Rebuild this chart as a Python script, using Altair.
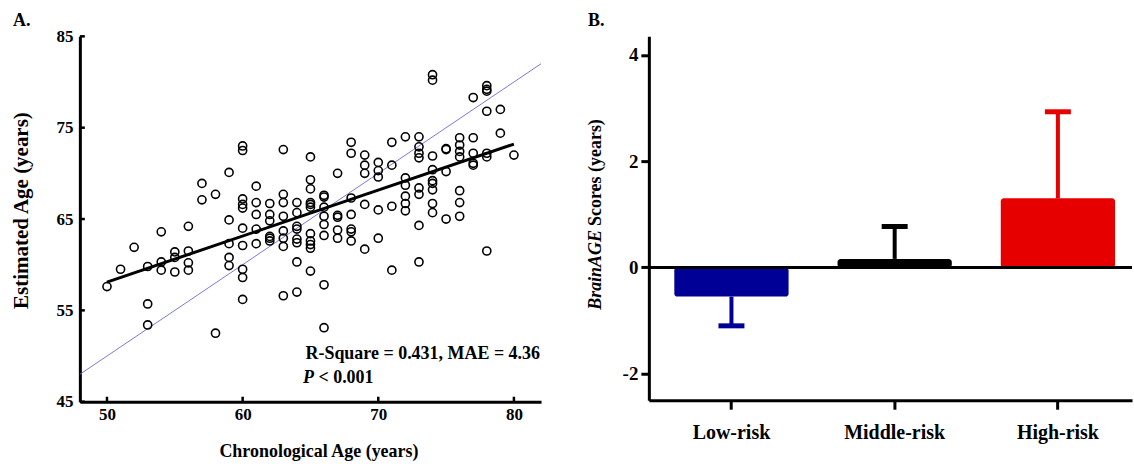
import altair as alt
import pandas as pd

# ---------------- Panel A data ----------------
chron_age = (
    [50] + [51] + [52] + [53]*3 + [54]*3 + [55]*3 + [56]*4 + [57]*2 + [58]*2 + [59]*5
    + [60]*10 + [61]*5 + [62]*6 + [63]*8 + [64]*8 + [65]*11 + [66]*8 + [67]*5 + [68]*7
    + [69]*5 + [70]*5 + [71]*4 + [72]*6 + [73]*8 + [74]*9 + [75]*4 + [76]*7 + [77]*5
    + [78]*7 + [79]*2 + [80]
)
est_age = [
    57.6,
    59.5,
    61.9,
    59.8, 55.7, 53.4,
    63.6, 60.3, 59.4,
    61.4, 60.8, 59.2,
    64.2, 61.5, 60.2, 59.4,
    68.9, 67.1,
    67.7, 52.5,
    70.1, 64.9, 62.3, 60.8, 59.9,
    73.0, 72.5, 67.2, 66.6, 66.2, 64.0, 62.1, 59.5, 58.6, 56.2,
    68.6, 66.8, 65.5, 63.9, 62.3,
    66.7, 65.5, 64.8, 63.1, 62.9, 62.6,
    72.6, 67.7, 66.8, 65.3, 63.7, 62.9, 62.0, 56.6,
    66.8, 65.7, 64.2, 63.9, 62.8, 62.4, 60.3, 57.0,
    71.8, 69.3, 68.3, 66.8, 66.6, 66.3, 63.4, 62.6, 62.2, 61.8, 59.3,
    67.6, 67.4, 66.3, 65.3, 64.4, 63.2, 57.8, 53.1,
    70.0, 65.4, 65.2, 63.8, 62.9,
    73.4, 72.2, 67.3, 65.5, 63.9, 63.6, 62.6,
    72.0, 70.9, 70.0, 66.6, 61.7,
    71.2, 70.3, 69.6, 66.0, 62.9,
    73.4, 70.9, 66.4, 59.4,
    74.0, 69.5, 68.7, 67.5, 66.7, 65.9,
    74.0, 72.9, 72.2, 71.7, 68.4, 67.7, 64.3, 60.3,
    80.8, 80.2, 71.9, 70.4, 69.2, 68.9, 68.2, 66.7, 65.7,
    72.7, 72.6, 70.2, 65.0,
    73.9, 73.1, 72.4, 71.8, 68.1, 66.8, 65.3,
    78.3, 73.9, 72.2, 71.1, 70.9,
    79.6, 79.2, 79.0, 76.8, 72.2, 71.8, 61.5,
    77.0, 74.4,
    72.0,
]
fit_x = [50, 80]
fit_y = [58.1, 73.2]
identity_xy = [48, 82]
x_ticks = [50, 60, 70, 80]
y_ticks = [45, 55, 65, 75, 85]

# ---------------- Panel B data ----------------
groups = ["Low-risk", "Middle-risk", "High-risk"]
means = [-0.55, 0.16, 1.30]
err_end = [-1.10, 0.77, 2.93]
bar_colors = ["#000096", "#000000", "#e60000"]
b_ticks = [-2, 0, 2, 4]

FONT = "Liberation Serif"

# ---------------- Panel A ----------------
pts = pd.DataFrame({"x": chron_age, "y": est_age})
xs = alt.Scale(domain=[48, 82], nice=False, zero=False)
ys = alt.Scale(domain=[45, 85], nice=False, zero=False)

points = alt.Chart(pts).mark_point(
    shape="circle", filled=False, color="black", strokeWidth=1.6, size=66, opacity=1
).encode(
    x=alt.X("x:Q", scale=xs, axis=alt.Axis(
        values=x_ticks, ticks=False, tickSize=0, grid=False,
        domainColor="black", domainWidth=3,
        labelFont=FONT, labelFontSize=17, labelFontWeight="bold", labelColor="black",
        labelBaseline="middle", labelPadding=13,
        title="Chronological Age (years)", titleFont=FONT, titleFontSize=18,
        titleFontWeight="bold", titleColor="black",
        titleX=239, titleY=50, titleBaseline="middle", titleAlign="center")),
    y=alt.Y("y:Q", scale=ys, axis=alt.Axis(
        values=y_ticks, ticks=False, tickSize=0, grid=False,
        domainColor="black", domainWidth=3,
        labelFont=FONT, labelFontSize=17, labelFontWeight="bold", labelColor="black",
        labelPadding=7,
        title="Estimated Age (years)", titleFont=FONT, titleFontSize=21,
        titleFontWeight="bold", titleColor="black",
        titleX=-58, titleY=174, titleBaseline="middle", titleAlign="center", titleAngle=270)),
)

ident = alt.Chart(pd.DataFrame({"x": identity_xy, "y": identity_xy})).mark_line(
    color="#6a6ad8", strokeWidth=0.9
).encode(x=alt.X("x:Q", scale=xs), y=alt.Y("y:Q", scale=ys))

fit = alt.Chart(pd.DataFrame({"x": fit_x, "y": fit_y})).mark_line(
    color="black", strokeWidth=3
).encode(x=alt.X("x:Q", scale=xs), y=alt.Y("y:Q", scale=ys))

xtick_marks = alt.Chart(pd.DataFrame({"x": x_ticks})).mark_rule(
    color="black", strokeWidth=2.5
).encode(x=alt.X("x:Q", scale=xs), y=alt.value(366), y2=alt.value(361))

ytick_marks = alt.Chart(pd.DataFrame({"y": y_ticks})).mark_rule(
    color="black", strokeWidth=2.5
).encode(y=alt.Y("y:Q", scale=ys), x=alt.value(0), x2=alt.value(5))

ann1 = alt.Chart(pd.DataFrame({"t": ["R-Square = 0.431, MAE = 4.36"]})).mark_text(
    font=FONT, fontSize=18, fontWeight="bold", align="left", baseline="middle", color="black"
).encode(text="t:N", x=alt.value(226), y=alt.value(318))

ann2a = alt.Chart(pd.DataFrame({"t": ["P"]})).mark_text(
    font=FONT, fontSize=18, fontWeight="bold", fontStyle="italic", align="left",
    baseline="middle", color="black"
).encode(text="t:N", x=alt.value(223.5), y=alt.value(342))

ann2b = alt.Chart(pd.DataFrame({"t": ["< 0.001"]})).mark_text(
    font=FONT, fontSize=18, fontWeight="bold", align="left", baseline="middle", color="black"
).encode(text="t:N", x=alt.value(239), y=alt.value(342))

labA = alt.Chart(pd.DataFrame({"t": ["A."]})).mark_text(
    font=FONT, fontSize=18, fontWeight="bold", align="left", baseline="middle", color="black"
).encode(text="t:N", x=alt.value(-67), y=alt.value(-15))

panelA = alt.layer(
    ident, points, fit, xtick_marks, ytick_marks, ann1, ann2a, ann2b, labA
).properties(width=462, height=366)

# ---------------- Panel B ----------------
bdf = pd.DataFrame({"group": groups, "value": means, "err": err_end})
bx = alt.Scale(domain=groups, paddingInner=0.30, paddingOuter=0.13, align=0.6)
by = alt.Scale(domain=[-2.5, 4.35], nice=False, zero=False)
bcol = alt.Color("group:N", scale=alt.Scale(domain=groups, range=bar_colors), legend=None)

bars = alt.Chart(bdf).mark_bar(cornerRadius=3).encode(
    x=alt.X("group:N", scale=bx, sort=groups, axis=alt.Axis(
        title=None, labelAngle=0, domainColor="black", domainWidth=3,
        tickColor="black", tickWidth=3, tickSize=9,
        labelFont=FONT, labelFontSize=20, labelFontWeight="bold", labelColor="black",
        labelBaseline="middle", labelPadding=23)),
    y=alt.Y("value:Q", scale=by, axis=alt.Axis(
        values=b_ticks, labelExpr="'' + datum.value", title=None, grid=False,
        domainColor="black", domainWidth=3,
        tickColor="black", tickWidth=3, tickSize=8,
        labelFont=FONT, labelFontSize=19, labelFontWeight="bold", labelColor="black",
        labelPadding=3)),
    y2=alt.datum(0),
    color=bcol,
)

stems = alt.Chart(bdf).mark_rule(strokeWidth=4).encode(
    x=alt.X("group:N", scale=bx, sort=groups),
    y=alt.Y("value:Q", scale=by), y2="err:Q", color=bcol,
)

caps = alt.Chart(bdf).mark_tick(size=26, thickness=5, opacity=1).encode(
    x=alt.X("group:N", scale=bx, sort=groups),
    y=alt.Y("err:Q", scale=by), color=bcol,
)

zero_line = alt.Chart(pd.DataFrame({"value": [0]})).mark_rule(
    color="black", strokeWidth=3
).encode(y=alt.Y("value:Q", scale=by))

titleB1 = alt.Chart(pd.DataFrame({"t": ["BrainAGE"]})).mark_text(
    font=FONT, fontSize=18, fontWeight="bold", fontStyle="italic", angle=270,
    align="right", baseline="middle", color="black"
).encode(text="t:N", x=alt.value(-53), y=alt.value(194))

titleB2 = alt.Chart(pd.DataFrame({"t": ["Scores (years)"]})).mark_text(
    font=FONT, fontSize=18, fontWeight="bold", angle=270,
    align="left", baseline="middle", color="black"
).encode(text="t:N", x=alt.value(-53), y=alt.value(190))

labB = alt.Chart(pd.DataFrame({"t": ["B."]})).mark_text(
    font=FONT, fontSize=18, fontWeight="bold", align="left", baseline="middle", color="black"
).encode(text="t:N", x=alt.value(-61), y=alt.value(-15))

panelB = alt.layer(
    bars, stems, caps, zero_line, titleB1, titleB2, labB
).properties(width=484, height=364.5)

chart = alt.hconcat(panelA, panelB, spacing=108, bounds="flush").properties(
    padding={"left": 11, "top": 12, "right": 0, "bottom": 2},
    background="white",
).configure_view(stroke=None)

chart.save("out.html", embed_options={"renderer": "svg", "actions": False})
